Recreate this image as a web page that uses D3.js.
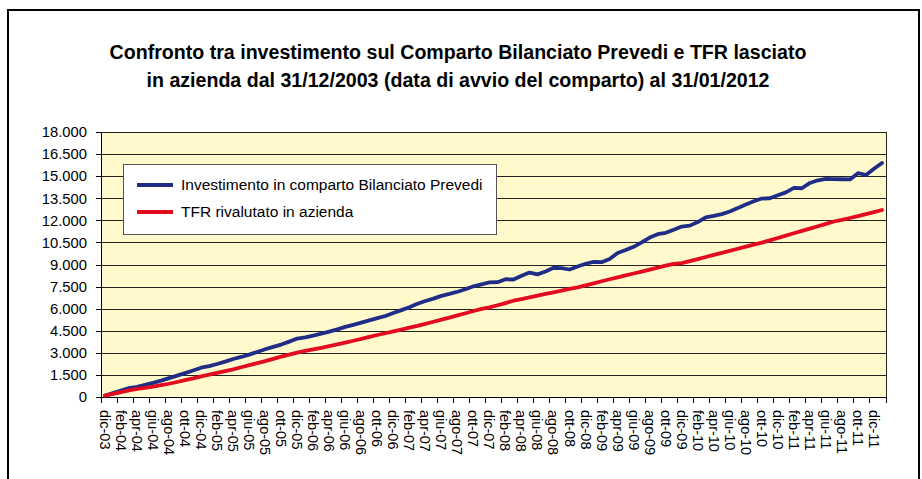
<!DOCTYPE html>
<html>
<head>
<meta charset="utf-8">
<script src="https://cdn.jsdelivr.net/npm/d3@7"></script>
<style>
  body { margin: 0; background: #fff; }
  svg text { font-family: "Liberation Sans", Arial, sans-serif; }
</style>
</head>
<body>
<div id="chart"></div>
<script>
"use strict";

// Month labels, one per data point (dic-03 .. gen-12)
var categories = [
  "dic-03",
  "gen-04","feb-04","mar-04","apr-04","mag-04","giu-04","lug-04","ago-04","set-04","ott-04","nov-04","dic-04",
  "gen-05","feb-05","mar-05","apr-05","mag-05","giu-05","lug-05","ago-05","set-05","ott-05","nov-05","dic-05",
  "gen-06","feb-06","mar-06","apr-06","mag-06","giu-06","lug-06","ago-06","set-06","ott-06","nov-06","dic-06",
  "gen-07","feb-07","mar-07","apr-07","mag-07","giu-07","lug-07","ago-07","set-07","ott-07","nov-07","dic-07",
  "gen-08","feb-08","mar-08","apr-08","mag-08","giu-08","lug-08","ago-08","set-08","ott-08","nov-08","dic-08",
  "gen-09","feb-09","mar-09","apr-09","mag-09","giu-09","lug-09","ago-09","set-09","ott-09","nov-09","dic-09",
  "gen-10","feb-10","mar-10","apr-10","mag-10","giu-10","lug-10","ago-10","set-10","ott-10","nov-10","dic-10",
  "gen-11","feb-11","mar-11","apr-11","mag-11","giu-11","lug-11","ago-11","set-11","ott-11","nov-11","dic-11",
  "gen-12"
];

// Investimento in comparto Bilanciato Prevedi
var investimento = [
  100,
  270, 430, 600, 690, 820, 960, 1110, 1280, 1450, 1620, 1800, 1990,
  2100, 2240, 2400, 2580, 2720, 2880, 3060, 3240, 3400, 3560, 3760, 3970,
  4050, 4170, 4300, 4440, 4590, 4760, 4900, 5050, 5200, 5360, 5500, 5700,
  5900, 6100, 6330, 6520, 6680, 6870, 7000, 7150, 7320, 7520, 7650, 7780,
  7800, 8000, 7980, 8230, 8450, 8330, 8520, 8780, 8760, 8660, 8860, 9050,
  9180, 9160, 9380, 9780, 9980, 10200, 10500, 10830, 11060, 11150, 11360, 11580,
  11640, 11880, 12200, 12300, 12420, 12600, 12830, 13080, 13300, 13480, 13500, 13700,
  13900, 14200, 14180, 14540, 14720, 14810, 14800, 14790, 14780, 15200, 15080, 15500,
  15900
];

// TFR rivalutato in azienda
var tfr = [
  90,
  210, 330, 450, 550, 620, 700, 800, 900, 1020, 1140, 1260, 1400,
  1520, 1640, 1760, 1880, 2020, 2160, 2300, 2440, 2590, 2740, 2880, 3020,
  3130, 3240, 3340, 3460, 3580, 3700, 3820, 3950, 4080, 4210, 4330, 4460,
  4580, 4710, 4830, 4970, 5110, 5250, 5390, 5540, 5690, 5840, 5990, 6090,
  6230, 6380, 6540, 6650, 6760, 6880, 7000, 7110, 7230, 7340, 7450, 7580,
  7720, 7860, 8000, 8130, 8260, 8390, 8520, 8650, 8790, 8920, 9040, 9100,
  9230, 9370, 9510, 9650, 9790, 9930, 10070, 10210, 10350, 10490, 10640, 10800,
  10960, 11120, 11280, 11440, 11600, 11760, 11920, 12030, 12160, 12280, 12420, 12560,
  12700
];

var yTicks = [0, 1500, 3000, 4500, 6000, 7500, 9000, 10500, 12000, 13500, 15000, 16500, 18000];

var titleLines = [
  "Confronto tra investimento sul Comparto Bilanciato Prevedi e TFR lasciato",
  "in azienda dal 31/12/2003 (data di avvio del comparto) al 31/01/2012"
];

var seriesNames = ["Investimento in comparto Bilanciato Prevedi", "TFR rivalutato in azienda"];
var seriesColors = ["#1f2d87", "#e30b1e"];

var W = 922, H = 479;
var margin = { top: 132, right: 36, bottom: 82, left: 101 },
    width = W - margin.left - margin.right,
    height = H - margin.top - margin.bottom;

var svg = d3.select("#chart")
  .append("svg")
  .attr("width", W)
  .attr("height", H);

// outer frame
svg.append("rect")
  .attr("x", 8).attr("y", 10)
  .attr("width", 911).attr("height", 490)
  .attr("fill", "#fff")
  .attr("stroke", "#000")
  .attr("stroke-width", 2);

// title
svg.append("g").selectAll("text")
  .data(titleLines)
  .enter()
  .append("text")
  .attr("x", 458)
  .attr("y", function (d, i) { return 59 + i * 28; })
  .attr("text-anchor", "middle")
  .style("font-size", "19.6px")
  .style("font-weight", "bold")
  .text(function (d) { return d; });

var g = svg.append("g")
  .attr("transform", "translate(" + margin.left + "," + margin.top + ")");

// scales
var x = d3.scaleBand()
  .domain(categories)
  .range([0, width])
  .padding(0);

var y = d3.scaleLinear()
  .domain([0, 18000])
  .range([height, 0]);

var itFormat = d3.formatLocale({ decimal: ",", thousands: ".", grouping: [3], currency: ["€", ""] }).format(",d");

// plot background
g.append("rect")
  .attr("width", width)
  .attr("height", height)
  .attr("fill", "#fff9cc");

// gridlines
g.append("g")
  .attr("class", "grid")
  .call(d3.axisLeft(y).tickValues(yTicks).tickSize(-width).tickFormat(""))
  .call(function (s) {
    s.select(".domain").remove();
    s.selectAll("line").attr("stroke", "#222").attr("shape-rendering", "crispEdges");
  });

// plot border (right / top)
g.append("rect")
  .attr("width", width)
  .attr("height", height)
  .attr("fill", "none")
  .attr("stroke", "#222")
  .attr("shape-rendering", "crispEdges");

// y axis
g.append("g")
  .call(d3.axisLeft(y).tickValues(yTicks).tickSize(5).tickPadding(9).tickFormat(itFormat))
  .call(function (s) {
    s.select(".domain").attr("stroke", "#000").attr("shape-rendering", "crispEdges");
    s.selectAll("line").attr("stroke", "#000").attr("shape-rendering", "crispEdges");
    s.selectAll("text").style("font-size", "14.8px").attr("fill", "#000");
  });

// x axis: labels on every second month, ticks between categories
var labelCats = categories.filter(function (d, i) { return i % 2 === 0 && i < categories.length - 1; });
var bw = x.bandwidth();

var xAxis = g.append("g")
  .attr("transform", "translate(0," + height + ")")
  .call(d3.axisBottom(x).tickValues(labelCats).tickSize(6).tickPadding(0))
  .call(function (s) {
    s.select(".domain").attr("stroke", "#000").attr("shape-rendering", "crispEdges");
    s.selectAll(".tick line")
      .attr("x1", -bw / 2).attr("x2", -bw / 2)
      .attr("stroke", "#000").attr("shape-rendering", "crispEdges");
    s.selectAll(".tick text")
      .attr("y", 0)
      .attr("dy", "0.35em")
      .attr("transform", "translate(0,13) rotate(90)")
      .attr("text-anchor", "start")
      .style("font-size", "14.5px")
      .attr("fill", "#000");
  });

// last tick at right end
xAxis.append("line")
  .attr("x1", width).attr("x2", width)
  .attr("y1", 0).attr("y2", 6)
  .attr("stroke", "#000")
  .attr("shape-rendering", "crispEdges");

// lines
var line = d3.line()
  .x(function (d, i) { return x(categories[i]) + bw / 2; })
  .y(function (d) { return y(d); });

[investimento, tfr].forEach(function (vals, k) {
  g.append("path")
    .datum(vals)
    .attr("fill", "none")
    .attr("stroke", seriesColors[k])
    .attr("stroke-width", 3.8)
    .attr("stroke-linejoin", "round")
    .attr("stroke-linecap", "round")
    .attr("d", line);
});

// legend
var legend = svg.append("g").attr("transform", "translate(123,164)");
legend.append("rect")
  .attr("width", 373).attr("height", 70)
  .attr("fill", "#fff")
  .attr("stroke", "#555")
  .attr("shape-rendering", "crispEdges");

var items = legend.selectAll(".item")
  .data(seriesNames)
  .enter()
  .append("g")
  .attr("transform", function (d, i) { return "translate(0," + (21 + i * 27) + ")"; });

items.append("line")
  .attr("x1", 14).attr("x2", 50)
  .attr("stroke", function (d, i) { return seriesColors[i]; })
  .attr("stroke-width", 3.8);

items.append("text")
  .attr("x", 58)
  .attr("dy", "0.35em")
  .style("font-size", "15.5px")
  .text(function (d) { return d; });
</script>
</body>
</html>
